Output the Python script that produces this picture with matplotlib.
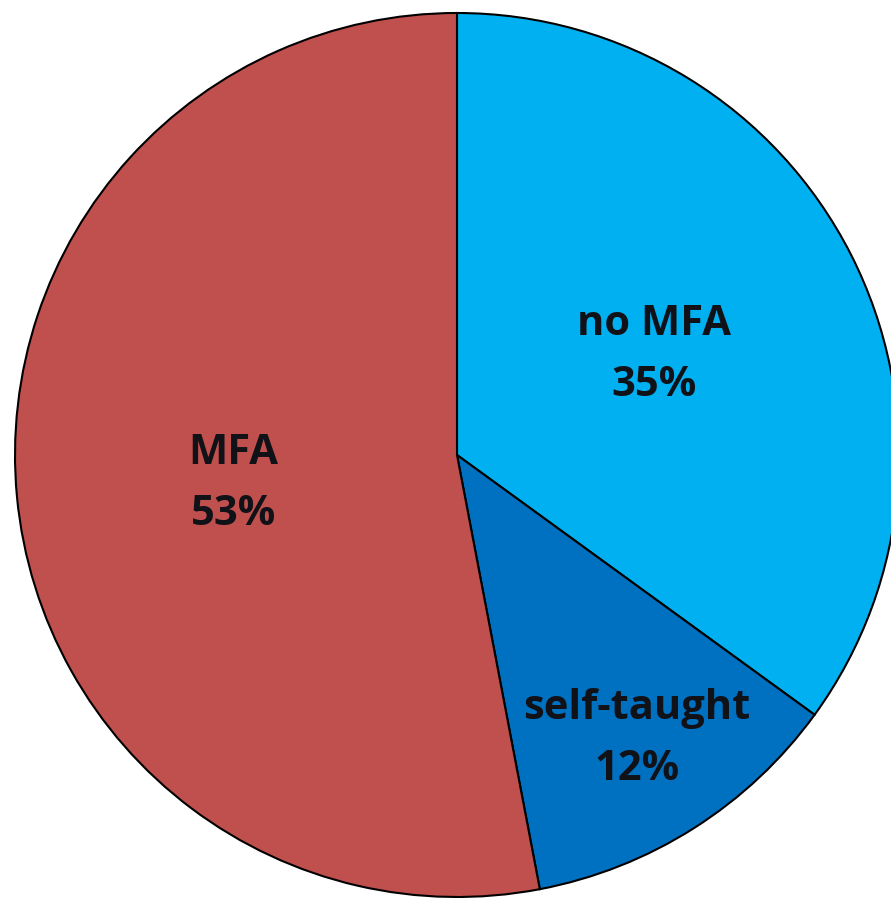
import matplotlib.pyplot as plt
import numpy as np

labels = ["no MFA", "self-taught", "MFA"]
shares = [35, 12, 53]
colors = ["#00B0F0", "#0070C0", "#C0504D"]
# label placement: fraction of the radius, and a nudge (degrees) off the mid-angle
label_dist = [0.50, 0.76, 0.51]
label_nudge = [0.0, 0.0, 2.0]

W, H, R = 891, 898, 442
cx, cy = 457, 455

fig = plt.figure(figsize=(W / 100, H / 100), dpi=100)
ax = fig.add_axes([0, 0, 1, 1])

wedges, _ = ax.pie(
    shares,
    colors=colors,
    startangle=90,
    counterclock=False,
    radius=1.0,
    wedgeprops=dict(edgecolor="black", linewidth=1.5),
)

for w, lab, val, d, nudge in zip(wedges, labels, shares, label_dist, label_nudge):
    mid = np.deg2rad((w.theta1 + w.theta2) / 2 + nudge)
    ax.text(
        d * np.cos(mid),
        d * np.sin(mid),
        f"{lab}\n{val}%",
        ha="center",
        va="center",
        fontsize=30,
        fontweight="bold",
        family="Open Sans",
        color="#111118",
        linespacing=1.65,
    )

ax.set_xlim(-cx / R, (W - cx) / R)
ax.set_ylim(-(H - cy) / R, cy / R)
ax.set_aspect("equal")
ax.axis("off")

fig.savefig("out.png", dpi=100)
